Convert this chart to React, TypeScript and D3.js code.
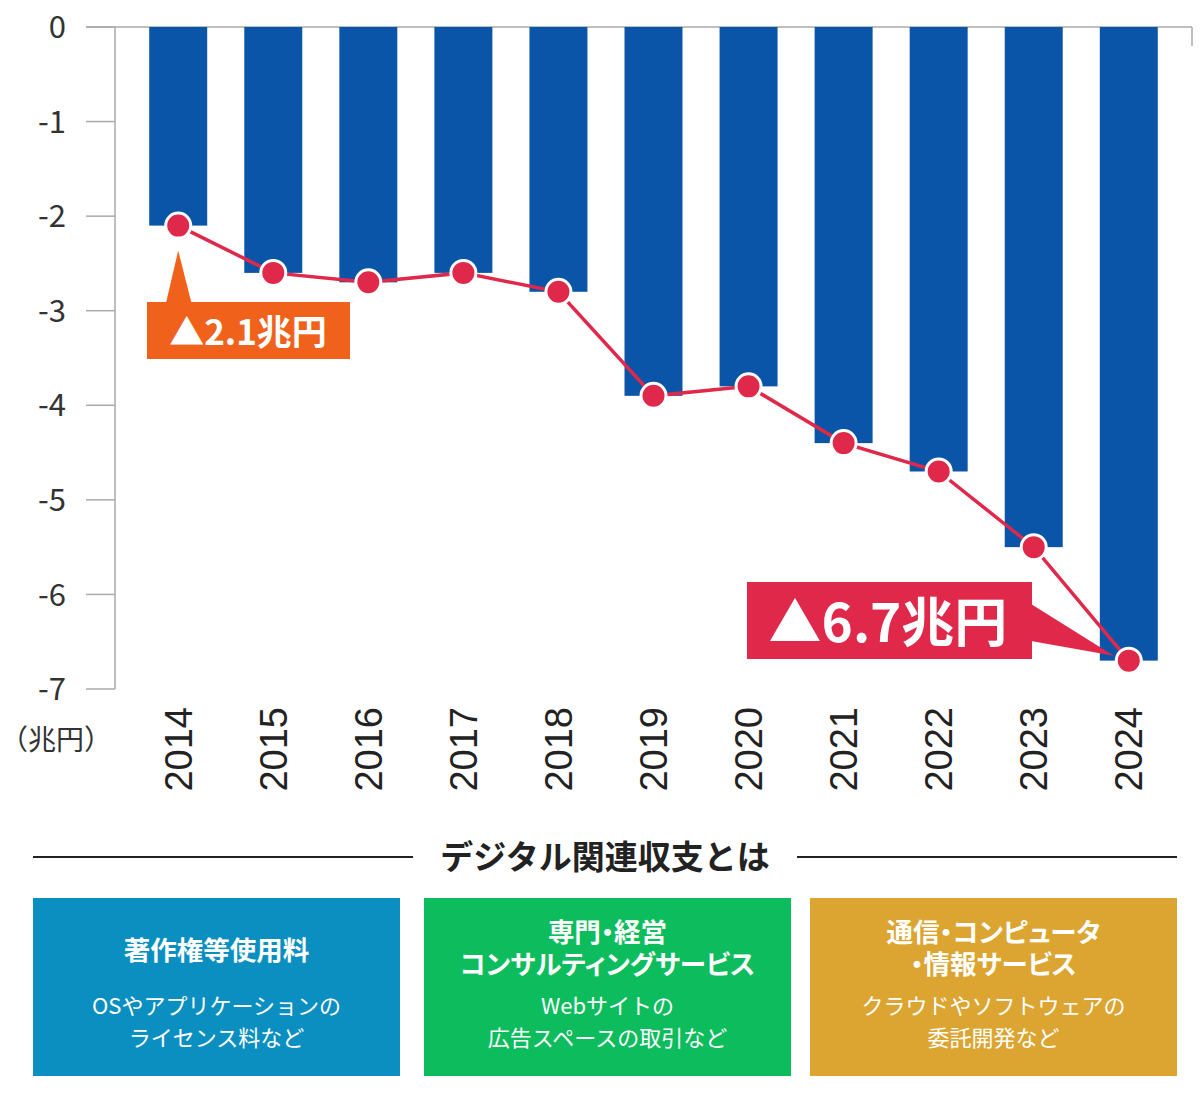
import React from "react";
import * as d3 from "d3";

const years = ["2014", "2015", "2016", "2017", "2018", "2019", "2020", "2021", "2022", "2023", "2024"];
const balance = [-2.1, -2.6, -2.7, -2.6, -2.8, -3.9, -3.8, -4.4, -4.7, -5.5, -6.7];
const yTicks = [0, -1, -2, -3, -4, -5, -6, -7];
const unitLabel = "（兆円）";
const firstCallout = "▲2.1兆円";
const lastCallout = "▲6.7兆円";
const sectionTitle = "デジタル関連収支とは";
const boxTitles = [["著作権等使用料"], ["専門・経営", "コンサルティングサービス"], ["通信・コンピュータ", "・情報サービス"]];
const boxNotes = [["OSやアプリケーションの", "ライセンス料など"], ["Webサイトの", "広告スペースの取引など"], ["クラウドやソフトウェアの", "委託開発など"]];
const boxColors = ["#0b8fc0", "#0dbd5d", "#dca532"];

const W = 1200;
const H = 1097;
const JP = "'Noto Sans CJK JP', 'Noto Sans', sans-serif";

export default function App() {
  const x = d3.scaleBand<string>().domain(years).range([115, 1192]).paddingInner(0.39).paddingOuter(0.36);
  const y = d3.scaleLinear().domain([0, -7]).range([27, 689]);
  const cx = (yr: string) => (x(yr) as number) + x.bandwidth() / 2;
  const line = d3
    .line<number>()
    .x((_, i) => cx(years[i]))
    .y((d) => y(d));

  const p0 = { x: cx(years[0]), y: y(balance[0]) };
  const pl = { x: cx(years[years.length - 1]), y: y(balance[balance.length - 1]) };

  const boxX = [33, 424, 810];
  const boxW = 367;

  return (
    <div style={{ position: "absolute", left: 0, top: 0 }}>
      <svg width={W} height={H} style={{ display: "block", background: "#fff" }}>
        {/* top zero line */}
        <line x1={86} x2={1192} y1={y(0)} y2={y(0)} stroke="#aaa" strokeWidth={1.5} />
        <line x1={1192} x2={1192} y1={y(0)} y2={y(0) + 19} stroke="#aaa" strokeWidth={1.5} />
        {/* y axis */}
        <line x1={115} x2={115} y1={y(0)} y2={y(-7)} stroke="#aaa" strokeWidth={1.5} />
        {yTicks.map((t) => (
          <g key={t}>
            <line x1={86} x2={115} y1={y(t)} y2={y(t)} stroke="#aaa" strokeWidth={1.5} />
            <text x={66} y={y(t)} dy="0.36em" textAnchor="end" fontFamily={JP} fontSize={31} fill="#333">
              {t === 0 ? "0" : `-${Math.abs(t)}`}
            </text>
          </g>
        ))}
        <text x={56} y={750} textAnchor="middle" fontFamily={JP} fontSize={28} fill="#333">
          {unitLabel}
        </text>
        {/* bars */}
        {years.map((yr, i) => (
          <rect key={yr} x={x(yr)} y={y(0)} width={x.bandwidth()} height={y(balance[i]) - y(0)} fill="#0a55a7" />
        ))}
        {/* year labels */}
        {years.map((yr) => (
          <text
            key={yr}
            transform={`translate(${cx(yr) + 13.5},707) rotate(-90)`}
            textAnchor="end"
            fontFamily="'Liberation Sans', Arial, sans-serif"
            fontSize={38}
            fill="#222"
          >
            {yr}
          </text>
        ))}
        {/* line */}
        <path d={line(balance) || ""} fill="none" stroke="#e0284a" strokeWidth={3.5} />
        {balance.map((v, i) => (
          <circle key={i} cx={cx(years[i])} cy={y(v)} r={12.5} fill="#e0284a" stroke="#fff" strokeWidth={3} />
        ))}
        {/* callout 2014 */}
        <path d={`M${p0.x},${p0.y + 25} L${p0.x - 12},302 L${p0.x + 13},302 Z`} fill="#f0621b" />
        <rect x={147} y={302} width={203} height={57} fill="#f0621b" />
        <text x={248} y={345} textAnchor="middle" fontFamily={JP} fontWeight={700} fontSize={35} fill="#fff">
          {firstCallout}
        </text>
        {/* callout 2024 */}
        <path d={`M1031,604 L${pl.x - 15},${pl.y - 5} L1031,641 Z`} fill="#e0284a" />
        <rect x={747} y={582} width={285} height={77} fill="#e0284a" />
        <text x={888} y={642} textAnchor="middle" fontFamily={JP} fontWeight={700} fontSize={53} fill="#fff">
          {lastCallout}
        </text>
        {/* section header */}
        <line x1={33} x2={413} y1={857} y2={857} stroke="#222" strokeWidth={2} />
        <line x1={797} x2={1177} y1={857} y2={857} stroke="#222" strokeWidth={2} />
        <text x={605} y={869} textAnchor="middle" fontFamily={JP} fontWeight={700} fontSize={33} fill="#222">
          {sectionTitle}
        </text>
        {/* boxes */}
        {boxX.map((bx, i) => {
          const titles = boxTitles[i];
          const notes = boxNotes[i];
          const midX = bx + boxW / 2;
          const titleY0 = titles.length === 1 ? 960 : 942;
          return (
            <g key={i}>
              <rect x={bx} y={898} width={boxW} height={178} fill={boxColors[i]} />
              {titles.map((t, j) => (
                <text
                  key={j}
                  x={midX}
                  y={titleY0 + j * 32}
                  textAnchor="middle"
                  fontFamily={JP}
                  fontWeight={700}
                  fontSize={26.5}
                  fill="#fff"
                  style={{ fontFeatureSettings: "'palt'" }}
                >
                  {t}
                </text>
              ))}
              {notes.map((t, j) => (
                <text key={j} x={midX} y={1014 + j * 32} textAnchor="middle" fontFamily={JP} fontSize={22} fill="#fff">
                  {t}
                </text>
              ))}
            </g>
          );
        })}
      </svg>
    </div>
  );
}
